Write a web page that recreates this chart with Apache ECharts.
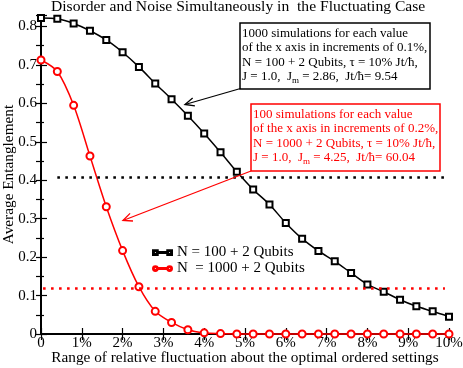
<!DOCTYPE html>
<html>
<head>
<meta charset="utf-8">
<script src="https://cdn.jsdelivr.net/npm/echarts@6/dist/echarts.min.js"></script>
<style>
  html, body { margin: 0; padding: 0; background: #fff; }
  #chart { width: 463px; height: 368px; }
</style>
</head>
<body>
<div id="chart"></div>
<script>
// fluctuation range (%), one marker every 0.4%
const xs = [0, 0.4, 0.8, 1.2, 1.6, 2.0, 2.4, 2.8, 3.2, 3.6, 4.0, 4.4, 4.8, 5.2, 5.6, 6.0, 6.4, 6.8, 7.2, 7.6, 8.0, 8.4, 8.8, 9.2, 9.6, 10.0];
const n100 = [0.822, 0.820, 0.808, 0.789, 0.765, 0.733, 0.695, 0.652, 0.611, 0.568, 0.522, 0.473, 0.422, 0.376, 0.337, 0.289, 0.248, 0.216, 0.189, 0.159, 0.129, 0.110, 0.089, 0.072, 0.059, 0.045];
const n1000 = [0.713, 0.683, 0.595, 0.463, 0.331, 0.217, 0.123, 0.059, 0.030, 0.011, 0.003, 0.001, 0, 0, 0, 0, 0, 0, 0, 0, 0, 0, 0, 0, 0, 0];
const seriesNames = ['N = 100 + 2 Qubits', 'N  = 1000 + 2 Qubits'];
// dotted reference levels
const refN100 = 0.408;
const refN1000 = 0.12;
const refN100Span = [0.4, 9.9];
const refN1000Span = [0.05, 9.9];

const FONT = '"Liberation Serif", "Times New Roman", serif';

const chart = echarts.init(document.getElementById('chart'));

function pairs(ys) {
  return xs.map((x, i) => [x, ys[i]]);
}

// open arrow: shaft from tail to tip plus a V head
function arrow(tail, tip, color) {
  const dx = tail[0] - tip[0], dy = tail[1] - tip[1];
  const len = Math.sqrt(dx * dx + dy * dy);
  const ux = dx / len, uy = dy / len;
  const a = 24 * Math.PI / 180, h = 10;
  const c = Math.cos(a), s = Math.sin(a);
  const p1 = [tip[0] + h * (ux * c - uy * s), tip[1] + h * (ux * s + uy * c)];
  const p2 = [tip[0] + h * (ux * c + uy * s), tip[1] + h * (-ux * s + uy * c)];
  return [
    { type: 'line', shape: { x1: tail[0], y1: tail[1], x2: tip[0], y2: tip[1] }, style: { stroke: color, lineWidth: 1.3 }, z: 10 },
    { type: 'polyline', shape: { points: [p1, tip, p2] }, style: { stroke: color, fill: null, lineWidth: 1.3 }, z: 10 }
  ];
}

function noteBox(x, y, w, h, lines, jm, color) {
  const els = [{
    type: 'rect', shape: { x: x, y: y, width: w, height: h },
    style: { fill: '#fff', stroke: color, lineWidth: 1.5 }, z: 9
  }];
  lines.forEach((t, i) => {
    els.push({
      type: 'text', x: x + 2, y: y + 10.5 + i * 14.4, z: 11,
      style: { text: t, font: '13px ' + FONT, fill: color, verticalAlign: 'middle' }
    });
  });
  els.push({
    type: 'text', x: x + 2, y: y + 10.5 + 3 * 14.4, z: 11,
    style: {
      text: jm, fill: color, verticalAlign: 'middle',
      rich: {
        n: { fontFamily: FONT, fontSize: 13, color: color },
        s: { fontFamily: FONT, fontSize: 9, color: color, padding: [8, 0, 0, 0] }
      }
    }
  });
  return els;
}

const squareIcon = 'path://M0 0H8V8H0ZM1.6 1.6V6.4H6.4V1.6ZM8 3.3H24V4.7H8ZM24 0H32V8H24ZM25.6 1.6V6.4H30.4V1.6Z';
const circleIcon = 'path://M0 4A4 4 0 1 1 8 4A4 4 0 1 1 0 4ZM1.4 4A2.6 2.6 0 1 0 6.6 4A2.6 2.6 0 1 0 1.4 4ZM8 3.3H24V4.7H8ZM24 4A4 4 0 1 1 32 4A4 4 0 1 1 24 4ZM25.4 4A2.6 2.6 0 1 0 30.6 4A2.6 2.6 0 1 0 25.4 4Z';

const tickStyle = { color: '#000', width: 1.2 };

chart.setOption({
  animation: false,
  backgroundColor: '#fff',
  title: {
    text: 'Disorder and Noise Simultaneously in  the Fluctuating Case',
    left: 51, top: -1, padding: 0,
    textStyle: { fontFamily: FONT, fontSize: 15.6, fontWeight: 'normal', color: '#000' }
  },
  legend: {
    orient: 'vertical', left: 147, top: 240, itemGap: 1,
    itemWidth: 19, itemHeight: 5, selectedMode: false,
    textStyle: { fontFamily: FONT, fontSize: 15, color: '#000' },
    data: [
      { name: seriesNames[0], icon: squareIcon },
      { name: seriesNames[1], icon: circleIcon }
    ]
  },
  grid: { left: 41, right: 14, top: 15, bottom: 34, containLabel: false, outerBoundsMode: 'none' },
  xAxis: [{
    type: 'value', min: 0, max: 10, interval: 1, position: 'bottom',
    name: 'Range of relative fluctuation about the optimal ordered settings',
    nameLocation: 'middle', nameGap: 16, nameMoveOverlap: false,
    nameTextStyle: { fontFamily: FONT, fontSize: 15.3, color: '#000' },
    axisLine: { lineStyle: { color: '#000', width: 2 } },
    axisTick: { inside: true, length: 6, lineStyle: tickStyle },
    axisLabel: { fontFamily: FONT, fontSize: 15, color: '#000', margin: 2,
      formatter: v => v === 0 ? '0' : v + '%' },
    splitLine: { show: false }
  }, {
    type: 'value', min: 0, max: 10, interval: 1, position: 'top',
    axisLine: { lineStyle: { color: '#000', width: 2 } },
    axisTick: { inside: true, length: 6, lineStyle: tickStyle },
    axisLabel: { show: false },
    splitLine: { show: false }
  }],
  yAxis: [{
    type: 'value', min: 0, max: 0.83, interval: 0.1, position: 'left',
    name: 'Average Entanglement', nameLocation: 'middle', nameGap: 25, nameMoveOverlap: false,
    nameTextStyle: { fontFamily: FONT, fontSize: 15.3, color: '#000' },
    axisLine: { show: true, lineStyle: { color: '#000', width: 2 } },
    axisTick: { show: true, inside: true, length: 6, lineStyle: tickStyle },
    minorTick: { show: true, splitNumber: 2, length: 3, lineStyle: tickStyle },
    axisLabel: { fontFamily: FONT, fontSize: 15, color: '#000', margin: 4, showMaxLabel: false,
      formatter: v => v === 0 ? '0' : (Math.abs(v * 10 - Math.round(v * 10)) < 1e-6 ? v.toFixed(1) : '') },
    splitLine: { show: false }
  }, {
    type: 'value', min: 0, max: 0.83, interval: 0.05, position: 'right',
    axisLine: { show: true, lineStyle: { color: '#000', width: 2 } },
    axisTick: { show: true, inside: true, length: 5, lineStyle: tickStyle },
    axisLabel: { show: false },
    splitLine: { show: false }
  }],
  series: [{
    name: seriesNames[0], type: 'line', smooth: 0.3, clip: false,
    data: pairs(n100),
    symbol: 'emptyRect', symbolSize: 6,
    lineStyle: { color: '#000', width: 1.5 },
    itemStyle: { color: '#000', borderColor: '#000', borderWidth: 1.3 },
    markLine: {
      silent: true, symbol: 'none', label: { show: false },
      lineStyle: { color: '#000', width: 2.6, type: [2.6, 5.4] },
      data: [[{ coord: [refN100Span[0], refN100] }, { coord: [refN100Span[1], refN100] }]]
    },
    z: 3
  }, {
    name: seriesNames[1], type: 'line', smooth: 0.3, clip: false,
    data: pairs(n1000),
    symbol: 'emptyCircle', symbolSize: 7,
    lineStyle: { color: '#ff0000', width: 1.5 },
    itemStyle: { color: '#ff0000', borderColor: '#ff0000', borderWidth: 1.3 },
    markLine: {
      silent: true, symbol: 'none', label: { show: false },
      lineStyle: { color: '#ff0000', width: 2.6, type: [2.6, 5.4] },
      data: [[{ coord: [refN1000Span[0], refN1000] }, { coord: [refN1000Span[1], refN1000] }]]
    },
    z: 4
  }],
  graphic: [].concat(
    noteBox(240, 23, 190, 66, [
      '1000 simulations for each value',
      'of the x axis in increments of 0.1%,',
      'N = 100 + 2 Qubits, \u03c4 = 10% Jt/\u0127,'
    ], '{n|J = 1.0,  J}{s|m}{n| = 2.86,  Jt/\u0127= 9.54}', '#000'),
    noteBox(251, 104, 189, 67, [
      '100 simulations for each value',
      'of the x axis in increments of 0.2%,',
      'N = 1000 + 2 Qubits, \u03c4 = 10% Jt/\u0127,'
    ], '{n|J = 1.0,  J}{s|m}{n| = 4.25,  Jt/\u0127= 60.04}', '#ff0000'),
    arrow([240.5, 88.5], [185, 104.5], '#000'),
    arrow([251, 171], [123, 220.5], '#ff0000')
  )
});
</script>
</body>
</html>
